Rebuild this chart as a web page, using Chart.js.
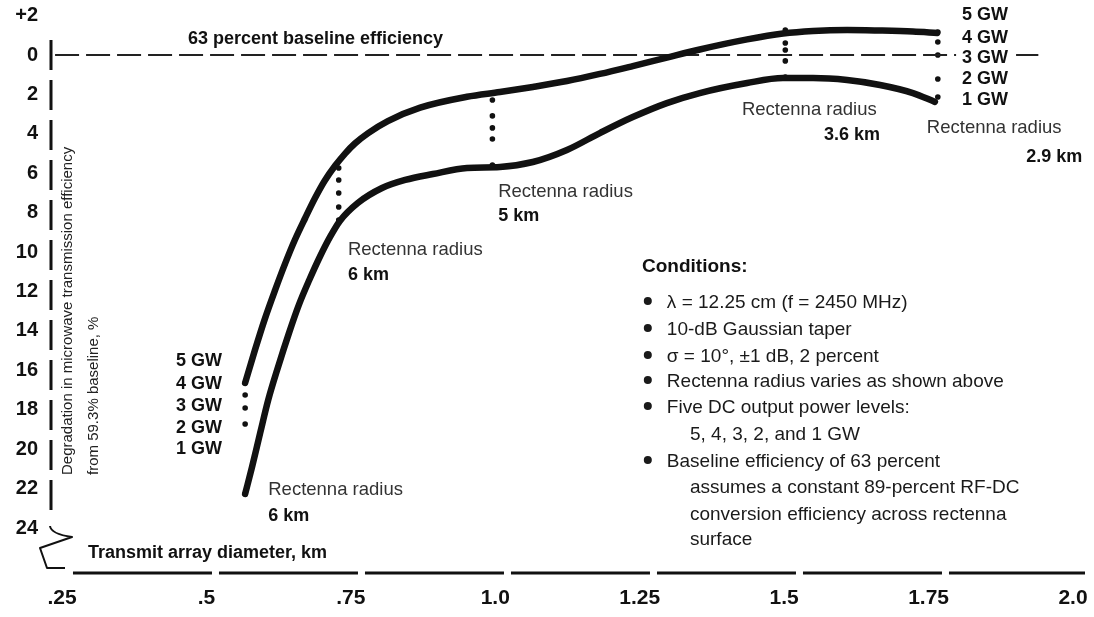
<!DOCTYPE html>
<html>
<head>
<meta charset="utf-8">
<title>Degradation in microwave transmission efficiency</title>
<script src="https://cdn.jsdelivr.net/npm/chart.js@4.4.1/dist/chart.umd.min.js"></script>
<style>
  html, body { margin: 0; padding: 0; background: #fff; }
  #wrap { width: 1094px; height: 617px; }
</style>
</head>
<body>
<div id="wrap"><canvas id="chart" width="1094" height="617"></canvas></div>
<script>
// Transmit array diameter (km) vs degradation (%)
const curve5GwX = [0.567, 0.584, 0.601, 0.619, 0.636, 0.653, 0.671, 0.688, 0.705, 0.723, 0.740, 0.757, 0.780, 0.814, 0.870, 0.951, 1.008, 1.065, 1.124, 1.181, 1.238, 1.297, 1.354, 1.436, 1.498, 1.550, 1.609, 1.666, 1.723, 1.765];
const curve5GwY = [16.64, 14.97, 13.40, 11.92, 10.60, 9.39, 8.27, 7.26, 6.37, 5.61, 5.00, 4.49, 3.96, 3.35, 2.67, 2.12, 1.88, 1.62, 1.32, 0.96, 0.56, 0.13, -0.28, -0.79, -1.09, -1.22, -1.27, -1.24, -1.19, -1.12];
const curve1GwX = [0.567, 0.579, 0.593, 0.607, 0.624, 0.643, 0.660, 0.678, 0.697, 0.714, 0.731, 0.762, 0.804, 0.844, 0.892, 0.951, 1.008, 1.065, 1.124, 1.181, 1.238, 1.297, 1.354, 1.436, 1.498, 1.550, 1.609, 1.666, 1.723, 1.761];
const curve1GwY = [22.27, 20.90, 19.18, 17.50, 15.83, 14.10, 12.68, 11.42, 10.20, 9.23, 8.42, 7.51, 6.75, 6.34, 6.04, 5.73, 5.68, 5.43, 4.82, 3.96, 3.15, 2.44, 1.93, 1.42, 1.17, 1.17, 1.27, 1.52, 1.93, 2.38];

// diameters where the rectenna radius is marked, one dot per power level
const markerX = [0.567, 0.729, 0.995, 1.502, 1.766];
const dots5Gw = [16.64, 5.73, 2.28, -1.27, -1.17];
const dots4Gw = [17.25, 6.34, 3.09, -0.61, -0.66];
const dots3Gw = [17.91, 7.00, 3.70, -0.25, 0.00];
const dots2Gw = [18.72, 7.71, 4.26, 0.30, 1.22];
const dots1Gw = [22.27, 8.37, 5.58, 1.12, 2.13];

const baselineX = [0.238, 1.94];
const baselineY = [0, 0];

const xTickValues = [0.25, 0.5, 0.75, 1.0, 1.25, 1.5, 1.75, 2.0];
const xTickLabels = ['.25', '.5', '.75', '1.0', '1.25', '1.5', '1.75', '2.0'];
const yTickValues = [-2, 0, 2, 4, 6, 8, 10, 12, 14, 16, 18, 20, 22, 24];
const yTickLabels = ['+2', '0', '2', '4', '6', '8', '10', '12', '14', '16', '18', '20', '22', '24'];

const FONT = '"Liberation Sans", Arial, Helvetica, sans-serif';
const BOLD18 = 'bold 18px ' + FONT;
const LIGHT = '18.5px ' + FONT;
const BODY = '19px ' + FONT;

// text placed in data coordinates (x = diameter, y = degradation at the text baseline)
const notes = [
    { text: '63 percent baseline efficiency', x: 0.468, y: -0.58, font: BOLD18 },
    { text: '5 GW', x: 0.527, y: 15.78, font: BOLD18, align: 'right' },
    { text: '4 GW', x: 0.527, y: 16.95, font: BOLD18, align: 'right' },
    { text: '3 GW', x: 0.527, y: 18.06, font: BOLD18, align: 'right' },
    { text: '2 GW', x: 0.527, y: 19.18, font: BOLD18, align: 'right' },
    { text: '1 GW', x: 0.527, y: 20.24, font: BOLD18, align: 'right' },
    { text: 'Rectenna radius', x: 0.607, y: 22.33, font: LIGHT, color: '#333' },
    { text: '6 km', x: 0.607, y: 23.64, font: BOLD18 },
    { text: 'Rectenna radius', x: 0.745, y: 10.15, font: LIGHT, color: '#333' },
    { text: '6 km', x: 0.745, y: 11.42, font: BOLD18 },
    { text: 'Rectenna radius', x: 1.005, y: 7.20, font: LIGHT, color: '#333' },
    { text: '5 km', x: 1.005, y: 8.42, font: BOLD18 },
    { text: 'Rectenna radius', x: 1.427, y: 3.04, font: LIGHT, color: '#333' },
    { text: '3.6 km', x: 1.666, y: 4.31, font: BOLD18, align: 'right' },
    { text: 'Rectenna radius', x: 1.747, y: 3.96, font: LIGHT, color: '#333' },
    { text: '2.9 km', x: 2.016, y: 5.43, font: BOLD18, align: 'right' },
    { text: '5 GW', x: 1.808, y: -1.78, font: BOLD18 },
    { text: '4 GW', x: 1.808, y: -0.61, font: BOLD18 },
    { text: '3 GW', x: 1.808, y: 0.41, font: BOLD18, knockout: true },
    { text: '2 GW', x: 1.808, y: 1.47, font: BOLD18 },
    { text: '1 GW', x: 1.808, y: 2.54, font: BOLD18 },
    { text: 'Conditions:', x: 1.254, y: 11.01, font: 'bold 19px ' + FONT },
    { text: 'Transmit array diameter, km', x: 0.295, y: 25.52, font: BOLD18 }
];

const conditions = [
    { text: 'λ = 12.25 cm (f = 2450 MHz)', y: 12.84, bullet: true },
    { text: '10-dB Gaussian taper', y: 14.21, bullet: true },
    { text: 'σ = 10°, ±1 dB, 2 percent', y: 15.58, bullet: true },
    { text: 'Rectenna radius varies as shown above', y: 16.85, bullet: true },
    { text: 'Five DC output power levels:', y: 18.16, bullet: true },
    { text: '5, 4, 3, 2, and 1 GW', y: 19.53 },
    { text: 'Baseline efficiency of 63 percent', y: 20.90, bullet: true },
    { text: 'assumes a constant 89-percent RF-DC', y: 22.22 },
    { text: 'conversion efficiency across rectenna', y: 23.59 },
    { text: 'surface', y: 24.86 }
];

const toPoints = (xs, ys) => xs.map((x, i) => ({ x: x, y: ys[i] }));

function dotSet(label, ys) {
    return {
        label: label,
        data: toPoints(markerX, ys),
        showLine: false,
        pointRadius: 2.8,
        pointBackgroundColor: '#111',
        pointBorderWidth: 0
    };
}

const figureDecor = {
    id: 'figureDecor',
    beforeDatasetsDraw(chart) {
        const { ctx, chartArea, scales: { x, y } } = chart;
        ctx.save();
        ctx.strokeStyle = '#111';

        // dashed vertical axis
        ctx.lineWidth = 3;
        ctx.setLineDash([30, 10]);
        ctx.beginPath();
        ctx.moveTo(chartArea.left - 1, y.getPixelForValue(-0.76));
        ctx.lineTo(chartArea.left - 1, y.getPixelForValue(23.6));
        ctx.stroke();

        // dashed horizontal axis
        ctx.setLineDash([139, 7]);
        ctx.beginPath();
        ctx.moveTo(x.getPixelForValue(0.269), chartArea.bottom + 1);
        ctx.lineTo(chartArea.right, chartArea.bottom + 1);
        ctx.stroke();

        // axis break mark
        const L = chartArea.left, B = chartArea.bottom;
        ctx.setLineDash([]);
        ctx.lineWidth = 2;
        ctx.lineJoin = 'round';
        ctx.beginPath();
        ctx.moveTo(L - 2, B - 46);
        ctx.quadraticCurveTo(L - 1, B - 38, L + 20, B - 35);
        ctx.lineTo(L - 12, B - 24);
        ctx.lineTo(L - 5, B - 4);
        ctx.lineTo(L + 13, B - 4);
        ctx.stroke();
        ctx.restore();
    },
    afterDatasetsDraw(chart) {
        const { ctx, scales: { x, y } } = chart;
        ctx.save();
        ctx.textBaseline = 'alphabetic';

        notes.forEach(n => {
            const px = x.getPixelForValue(n.x);
            const py = y.getPixelForValue(n.y);
            ctx.font = n.font;
            ctx.textAlign = n.align || 'left';
            if (n.knockout) {
                const w = ctx.measureText(n.text).width;
                ctx.fillStyle = '#fff';
                ctx.fillRect(px - 6, py - 16, w + 10, 20);
            }
            ctx.fillStyle = n.color || '#111';
            ctx.fillText(n.text, px, py);
        });

        // conditions list
        ctx.font = BODY;
        ctx.textAlign = 'left';
        conditions.forEach(c => {
            const py = y.getPixelForValue(c.y);
            ctx.fillStyle = '#1a1a1a';
            if (c.bullet) {
                ctx.beginPath();
                ctx.arc(x.getPixelForValue(1.264), py - 7, 4, 0, Math.PI * 2);
                ctx.fill();
                ctx.fillText(c.text, x.getPixelForValue(1.297), py);
            } else {
                ctx.fillText(c.text, x.getPixelForValue(1.337), py);
            }
        });

        // rotated y-axis title, two lines
        ctx.font = '15px ' + FONT;
        ctx.fillStyle = '#222';
        ctx.textBaseline = 'middle';
        [['Degradation in microwave transmission efficiency', 0.2604],
         ['from 59.3% baseline, %', 0.3054]].forEach(([t, xv]) => {
            ctx.save();
            ctx.translate(x.getPixelForValue(xv), y.getPixelForValue(21.31));
            ctx.rotate(-Math.PI / 2);
            ctx.fillText(t, 0, 0);
            ctx.restore();
        });
        ctx.restore();
    }
};

new Chart(document.getElementById('chart'), {
    type: 'scatter',
    data: {
        datasets: [
            {
                label: '5 GW',
                data: toPoints(curve5GwX, curve5GwY),
                showLine: true,
                borderColor: '#111',
                borderWidth: 6.5,
                borderCapStyle: 'round',
                cubicInterpolationMode: 'monotone',
                pointRadius: 0
            },
            {
                label: '1 GW',
                data: toPoints(curve1GwX, curve1GwY),
                showLine: true,
                borderColor: '#111',
                borderWidth: 6.5,
                borderCapStyle: 'round',
                cubicInterpolationMode: 'monotone',
                pointRadius: 0
            },
            {
                label: 'Baseline',
                data: toPoints(baselineX, baselineY),
                showLine: true,
                borderColor: '#222',
                borderWidth: 2,
                borderDash: [24, 7],
                pointRadius: 0
            },
            dotSet('5 GW level', dots5Gw),
            dotSet('4 GW level', dots4Gw),
            dotSet('3 GW level', dots3Gw),
            dotSet('2 GW level', dots2Gw),
            dotSet('1 GW level', dots1Gw)
        ]
    },
    options: {
        responsive: false,
        animation: false,
        devicePixelRatio: 1,
        layout: { padding: { top: 12, right: 9, left: 0, bottom: 0 } },
        plugins: {
            legend: { display: false },
            tooltip: { enabled: false }
        },
        scales: {
            x: {
                type: 'linear',
                min: 0.23269,
                max: 2.02077,
                afterBuildTicks: s => { s.ticks = xTickValues.map(v => ({ value: v })); },
                afterFit: s => {
                    s.height = 45;
                    s.paddingLeft = 0;
                    s.paddingRight = 0;
                },
                grid: { display: false, drawTicks: false },
                border: { display: false },
                ticks: {
                    autoSkip: false,
                    maxRotation: 0,
                    padding: 14,
                    color: '#111',
                    font: { family: FONT, size: 21, weight: 'bold' },
                    callback: v => xTickLabels[xTickValues.indexOf(v)]
                }
            },
            y: {
                type: 'linear',
                reverse: true,
                min: -2.1818,
                max: 26.2325,
                afterBuildTicks: s => { s.ticks = yTickValues.map(v => ({ value: v })); },
                afterFit: s => {
                    s.width = 52;
                    s.paddingTop = 0;
                    s.paddingBottom = 0;
                },
                grid: { display: false, drawTicks: false },
                border: { display: false },
                ticks: {
                    autoSkip: false,
                    padding: 14,
                    color: '#111',
                    font: { family: FONT, size: 20, weight: 'bold' },
                    callback: v => yTickLabels[yTickValues.indexOf(v)]
                }
            }
        }
    },
    plugins: [figureDecor]
});
</script>
</body>
</html>
